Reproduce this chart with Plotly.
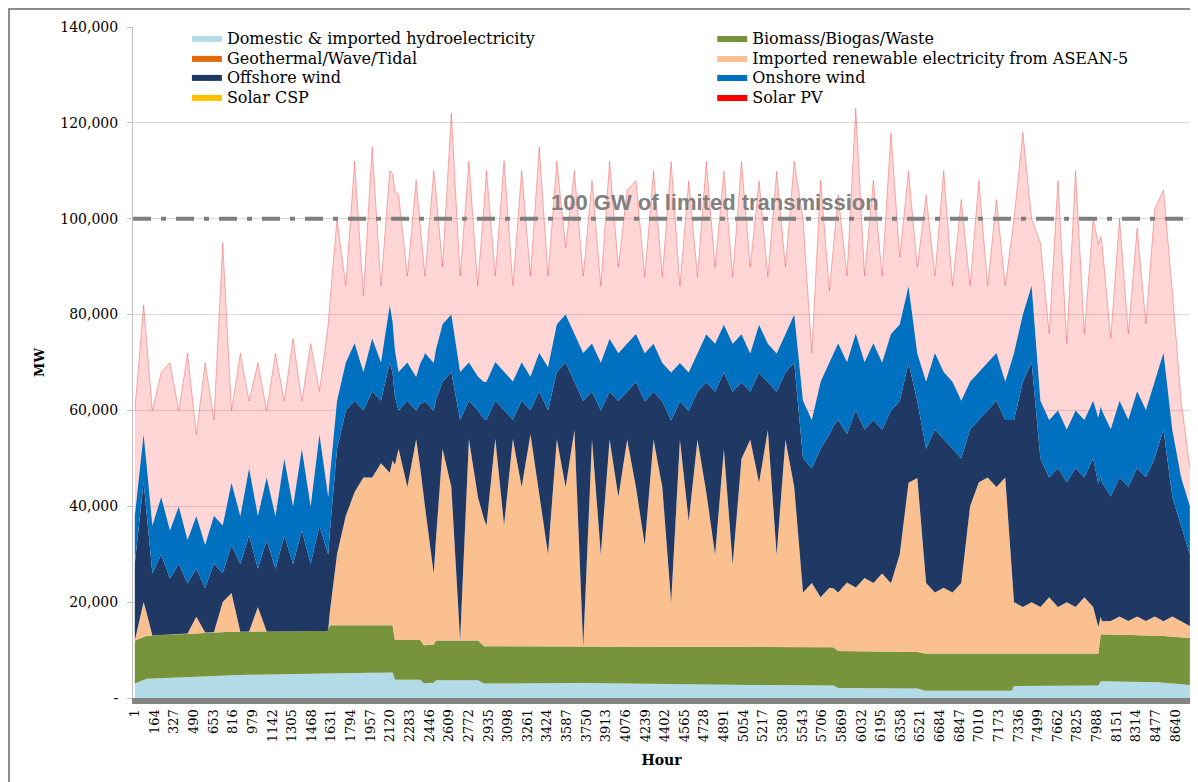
import plotly.graph_objects as go

# ---------------- data (MW) ----------------
# coarse base layers
base_hours = [0, 100, 700, 1600, 1620, 2140, 2160, 2370, 2400, 2480, 2500, 2850, 2900,
              3500, 4500, 5800, 5840, 6500, 6560, 7280, 7300, 8000, 8020, 8500, 8760]
hydro = [3000, 4000, 4700, 5200, 5200, 5300, 3800, 3800, 3100, 3100, 3700, 3700, 3000,
         3200, 2800, 2600, 2100, 2000, 1500, 1500, 2500, 2600, 3500, 3300, 2700]
biomass = [9000, 9000, 9100, 8800, 10000, 9900, 8300, 8300, 7900, 7900, 8300, 8300, 7800,
           7500, 7800, 8000, 7700, 7600, 7800, 7800, 6800, 6700, 9800, 9700, 9800]
small_hours = [0, 8760]
geothermal = [0, 0]
solar_csp = [0, 0]

# sampled hourly profile (every 73 h)
hours = list(range(0, 8761, 73))
imported = [0, 7300, 0, 0, 0, 0, 0, 3400, 0, 0, 6200, 8100, 0, 0, 5100, 0, 0, 0, 0, 0,
            0, 0, 0, 14800, 22800, 27800, 30800, 30800, 33800, 31800, 39900, 31900, 41900, 29000, 14900, 40000, 32000, 0, 42000, 30000,
            25200, 43300, 25300, 43300, 33300, 44300, 31300, 19300, 43300, 33300, 45300, 0, 43300, 19300, 43300, 31300, 43300, 33300, 21300, 43300,
            33300, 9300, 43300, 26300, 43300, 32300, 19300, 41300, 17300, 39300, 43300, 34300, 45300, 19300, 43300, 33400, 11400, 13400, 10400, 12400,
            12200, 14300, 13300, 15300, 14300, 16300, 14300, 20300, 35300, 36300, 14700, 12700, 13700, 12700, 14700, 30700, 35700, 36700, 34700, 36700,
            10700, 9700, 10700, 9700, 11700, 9700, 10700, 9700, 11700, 9700, 2700, 2800, 3800, 2900, 3900, 3000, 4000, 3100, 4200, 3400,
            2500]
offshore = [16000, 25000, 12900, 16800, 11700, 14600, 10500, 10000, 9300, 14300, 6000, 10000, 14100, 20100, 8000, 19100, 13000, 20000, 14000, 21000,
            14000, 22000, 15600, 22000, 22000, 19000, 14000, 18000, 13000, 23000, 8000, 18000, 6000, 22000, 34000, 14000, 24000, 46000, 8000, 18000,
            22000, 8000, 24000, 4000, 18000, 5000, 22000, 30000, 14000, 26000, 10000, 51300, 10000, 30000, 10000, 20000, 10000, 22000, 30000, 10000,
            18000, 38000, 8000, 23000, 10000, 23000, 34000, 16000, 36000, 16000, 10000, 23000, 10000, 34000, 14000, 26000, 28000, 24000, 31000, 32000,
            36000, 31000, 37000, 31000, 34000, 30000, 36000, 32000, 25000, 16000, 28000, 34000, 31000, 30000, 26000, 16000, 13000, 14000, 18000, 12000,
            38000, 47000, 50000, 31000, 25000, 29000, 25000, 29000, 25000, 31000, 29000, 26000, 29000, 28000, 31000, 30000, 33000, 40000, 25000, 20000,
            15000]
onshore = [10000, 10000, 10000, 12000, 10000, 12000, 9000, 11000, 9000, 10000, 10000, 13000, 10000, 14000, 11000, 13000, 11000, 16000, 12000, 17000,
           12000, 19000, 12000, 10000, 10000, 12000, 8000, 11000, 8000, 12000, 8000, 8000, 7000, 10000, 10000, 12000, 12000, 10000, 8000, 7000,
           8000, 8000, 8000, 8000, 8000, 7000, 8000, 9000, 10000, 10000, 10000, 10000, 10000, 10000, 11000, 10000, 10000, 10000, 10000, 10000,
           8000, 10000, 8000, 8000, 8000, 10000, 10000, 10000, 10000, 10000, 8000, 10000, 8000, 8000, 8000, 10000, 12000, 10000, 14000, 15000,
           16000, 15000, 16000, 14000, 16000, 14000, 16000, 16000, 16000, 10000, 14000, 16000, 14000, 14000, 12000, 10000, 10000, 10000, 10000, 8000,
           14000, 14000, 16000, 12000, 12000, 12000, 11000, 12000, 12000, 12000, 15000, 14000, 16000, 14000, 16000, 14000, 16000, 16000, 14000, 10000,
           10000]
solar_pv = [22000, 27000, 24000, 26000, 35000, 20000, 39000, 17000, 38000, 20000, 59000, 15000, 34000, 14000, 32000, 14000, 34000, 12000, 35000, 10000,
            34000, 9000, 36000, 38000, 16000, 38000, 16000, 40000, 16000, 28000, 37000, 18000, 41000, 16000, 40000, 12000, 42000, 20000, 42000, 19000,
            44000, 18000, 44000, 20000, 40000, 21000, 43000, 19000, 34000, 14000, 34000, 16000, 34000, 16000, 37000, 18000, 32000, 32000, 16000, 36000,
            18000, 44000, 16000, 40000, 16000, 36000, 16000, 32000, 14000, 36000, 18000, 30000, 14000, 38000, 14000, 32000, 38000, 14000, 42000, 15000,
            31000, 18000, 47000, 18000, 34000, 18000, 42000, 14000, 24000, 18000, 39000, 16000, 42000, 20000, 42000, 20000, 40000, 16000, 32000, 20000,
            28000, 38000, 14000, 33000, 18000, 48000, 18000, 50000, 18000, 38000, 35000, 19000, 38000, 18000, 34000, 18000, 36000, 34000, 29000, 16000,
            8000]

hour_ticks = list(range(1, 8761, 163))
y_ticks = [0, 20000, 40000, 60000, 80000, 100000, 120000, 140000]
y_ticktext = ["-", "20,000", "40,000", "60,000", "80,000", "100,000", "120,000", "140,000"]
transmission_limit = 100000

names = {
    "hydro": "Domestic & imported hydroelectricity",
    "bio": "Biomass/Biogas/Waste",
    "geo": "Geothermal/Wave/Tidal",
    "imp": "Imported renewable electricity from ASEAN-5",
    "off": "Offshore wind",
    "on": "Onshore wind",
    "csp": "Solar CSP",
    "pv": "Solar PV",
}
colors = {
    "hydro": "#B4DCE8", "bio": "#77933C", "geo": "#E36C09", "imp": "#FAC090",
    "off": "#1F3864", "on": "#0070C0", "csp": "#FFC000", "pv": "#FF0000",
}
# legend slot of each series: (legend id, column, row)
legend_slots = {
    "hydro": ("legend", 0, 0), "bio": ("legend2", 1, 0),
    "geo": ("legend3", 0, 1), "imp": ("legend4", 1, 1),
    "off": ("legend5", 0, 2), "on": ("legend6", 1, 2),
    "csp": ("legend7", 0, 3), "pv": ("legend8", 1, 3),
}

SERIF = "DejaVu Serif"
fig = go.Figure()


def area(x, y, key, fill=None, line=None, lw=0, show=True):
    fig.add_trace(go.Scatter(
        x=x, y=y, name=names[key], mode="lines", stackgroup="one", stackgaps="interpolate",
        line=dict(width=lw, color=line or colors[key]), fillcolor=fill or colors[key],
        legend=legend_slots[key][0], showlegend=show, hoverinfo="skip"))


area(base_hours, hydro, "hydro")
area(base_hours, biomass, "bio")
area(small_hours, geothermal, "geo")
area(hours, imported, "imp")
area(hours, offshore, "off")
area(hours, onshore, "on")
area(small_hours, solar_csp, "csp")
area(hours, solar_pv, "pv", fill="rgba(255,80,80,0.24)",
     line="rgba(235,0,0,0.5)", lw=0.6, show=False)
# legend entry for Solar PV (solid swatch)
fig.add_trace(go.Scatter(x=[None], y=[None], name=names["pv"], mode="lines", fill="toself",
                         fillcolor=colors["pv"], line=dict(width=0, color=colors["pv"]),
                         legend="legend8", hoverinfo="skip"))

# 100 GW transmission limit
fig.add_shape(type="line", xref="paper", yref="y", x0=0, x1=1.01,
              y0=transmission_limit, y1=transmission_limit,
              line=dict(color="#7F7F7F", width=4, dash="18px,10px,5px,10px"))
fig.add_annotation(xref="paper", yref="y", x=0.551, y=transmission_limit, yanchor="bottom",
                   yshift=2, text="<b>100 GW of limited transmission</b>", showarrow=False,
                   font=dict(family="Liberation Sans", size=22, color="#808080"))

# outer frame (chart area border)
fig.add_shape(type="rect", xref="paper", yref="paper", x0=-0.1173, x1=1.05, y0=-0.3, y1=1.0268,
              line=dict(color="#8C8C8C", width=2), fillcolor="rgba(0,0,0,0)")

legend_font = dict(family=SERIF, size=16, color="#000000")
col_x = [0.051, 0.548]
row_y = [0.9836, 0.9538, 0.9255, 0.8957]
legend_layout = {}
for key, (lid, col, row) in legend_slots.items():
    legend_layout[lid] = dict(x=col_x[col], y=row_y[row], xanchor="left", yanchor="middle",
                              font=legend_font, bgcolor="rgba(0,0,0,0)", borderwidth=0)

# page body has an 8px margin: figure is 1190x774 so that the page is 1198x782
fig.update_layout(
    width=1190, height=774,
    margin=dict(l=125, r=8, t=19, b=84, autoexpand=False),
    paper_bgcolor="white", plot_bgcolor="white",
    showlegend=True,
    xaxis=dict(range=[-15, 8761], tickmode="array", tickvals=hour_ticks,
               ticktext=[str(h) for h in hour_ticks], tickangle=-90, automargin=False,
               tickfont=dict(family=SERIF, size=13, color="#000000"),
               showgrid=False, zeroline=False, showline=True, linecolor="#858585", linewidth=6,
               ticks="", title=dict(text="<b>Hour</b>", standoff=16,
                                     font=dict(family=SERIF, size=14, color="#000000"))),
    yaxis=dict(range=[0, 140000], tickmode="array", tickvals=y_ticks, ticktext=y_ticktext,
               automargin=False,
               tickfont=dict(family=SERIF, size=14, color="#000000"),
               showgrid=True, gridcolor="#D9D9D9", gridwidth=1, zeroline=False,
               showline=True, linecolor="#BFBFBF", linewidth=1, ticks="outside", ticklen=5,
               tickcolor="#BFBFBF", ticklabelstandoff=6,
               title=dict(text="<b>MW</b>", standoff=12,
                          font=dict(family=SERIF, size=13, color="#000000"))),
    **legend_layout,
)

fig.write_html("out.html")
